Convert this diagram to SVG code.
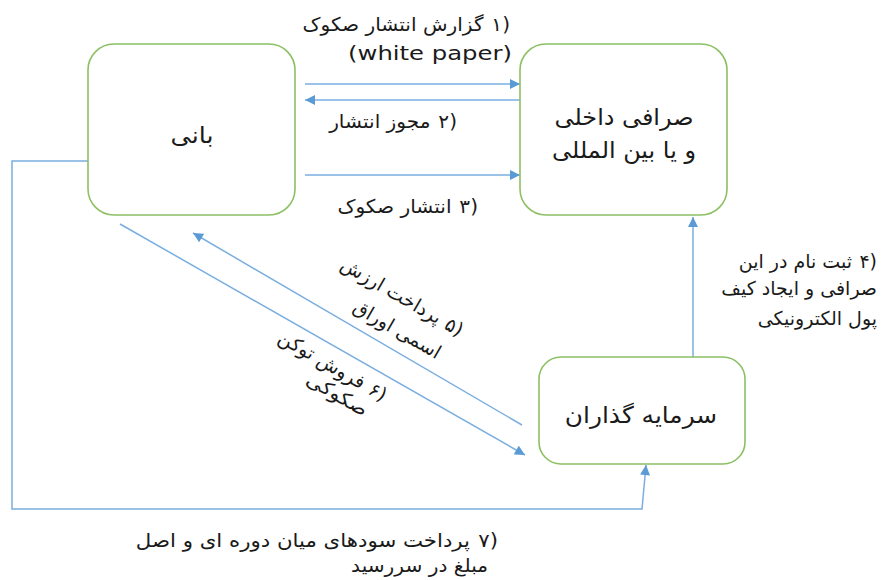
<svg xmlns="http://www.w3.org/2000/svg" width="893" height="580" viewBox="0 0 893 580">
<style>
.node{fill:#fff;stroke:#8cc063;stroke-width:1.6}
.conn{fill:none;stroke:#7aaee0;stroke-width:1.5}
.arr{marker-end:url(#ah)}
text{font-family:"DejaVu Sans","Noto Sans",sans-serif;fill:#1a1a1a;direction:rtl}
.nt{font-size:23px}
.lb{font-size:19px}
.c{text-anchor:middle}
.r{text-anchor:start}
.num{direction:ltr;text-anchor:end}
</style>
<defs>
<marker id="ah" viewBox="0 0 10 10" refX="10" refY="5" markerWidth="11" markerHeight="10" markerUnits="userSpaceOnUse" orient="auto">
<path d="M0,0 L10,5 L0,10 Z" fill="#5b9bd5"/>
</marker>
</defs>
<g id="connectors">
<line class="conn arr" x1="305" y1="84" x2="520" y2="84"/>
<line class="conn arr" x1="520" y1="100" x2="305" y2="100"/>
<line class="conn arr" x1="305" y1="175" x2="520" y2="175"/>
<line class="conn arr" x1="693" y1="357" x2="693" y2="217"/>
<line class="conn arr" x1="522" y1="425" x2="193" y2="233"/>
<line class="conn arr" x1="120" y1="224" x2="525" y2="455"/>
<polyline class="conn arr" points="88,161 12,161 12,509 642,509 646,465"/>
</g>
<g id="node-bani">
<rect class="node" x="88" y="44" width="207" height="171" rx="26"/>
<text class="nt c" transform="translate(192,143) scale(1.1,1)">بانی</text>
</g>
<g id="node-sarrafi">
<rect class="node" x="520" y="44" width="207" height="171" rx="26"/>
<text class="nt c" transform="translate(624,125) scale(1.04,1)">صرافی داخلی</text>
<text class="nt c" transform="translate(624,158) scale(1.04,1)">و یا بین المللی</text>
</g>
<g id="node-investors">
<rect class="node" x="539" y="357" width="206" height="107" rx="22"/>
<text class="nt c" transform="translate(641,423) scale(1.08,1)">سرمایه گذاران</text>
</g>
<g id="labels">
<g transform="translate(510,31) scale(1.06,1)">
<text class="lb num" x="0" y="0">۱)</text>
<text class="lb r" x="-25" y="0">گزارش انتشار صکوک</text>
</g>
<text class="lb c" transform="translate(430,60) scale(1.28,1)" style="direction:ltr">(white paper)</text>
<g transform="translate(457,128) scale(1.06,1)">
<text class="lb num" x="0" y="0">۲)</text>
<text class="lb r" x="-25" y="0">مجوز انتشار</text>
</g>
<g transform="translate(478,213) scale(1.06,1)">
<text class="lb num" x="0" y="0">۳)</text>
<text class="lb r" x="-25" y="0">انتشار صکوک</text>
</g>
<g transform="translate(877,268) scale(1,1)">
<text class="lb num" x="0" y="0">۴)</text>
<text class="lb r" x="-25" y="0">ثبت نام در این</text>
</g>
<text class="lb r" transform="translate(877,295)">صرافی و ایجاد کیف</text>
<text class="lb r" transform="translate(877,325)">پول الکترونیکی</text>
<g transform="translate(498,547) scale(1.12,1)">
<text class="lb num" x="0" y="0">۷)</text>
<text class="lb r" x="-25" y="0">پرداخت سودهای میان دوره ای و اصل</text>
</g>
<text class="lb r" transform="translate(488,572) scale(1.06,1)">مبلغ در سررسید</text>
<g transform="translate(398,302) rotate(30)">
<text class="lb num" x="70" y="0">۵)</text>
<text class="lb r" x="45" y="0">پرداخت ارزش</text>
</g>
<text class="lb c" transform="translate(394,335) rotate(30)">اسمی اوراق</text>
<g transform="translate(325,369) rotate(30)">
<text class="lb num" x="66" y="0">۶)</text>
<text class="lb r" x="41" y="0">فروش توکن</text>
</g>
<text class="lb c" transform="translate(334,400) rotate(30) scale(1.1,1)">صکوکی</text>
</g>
</svg>
